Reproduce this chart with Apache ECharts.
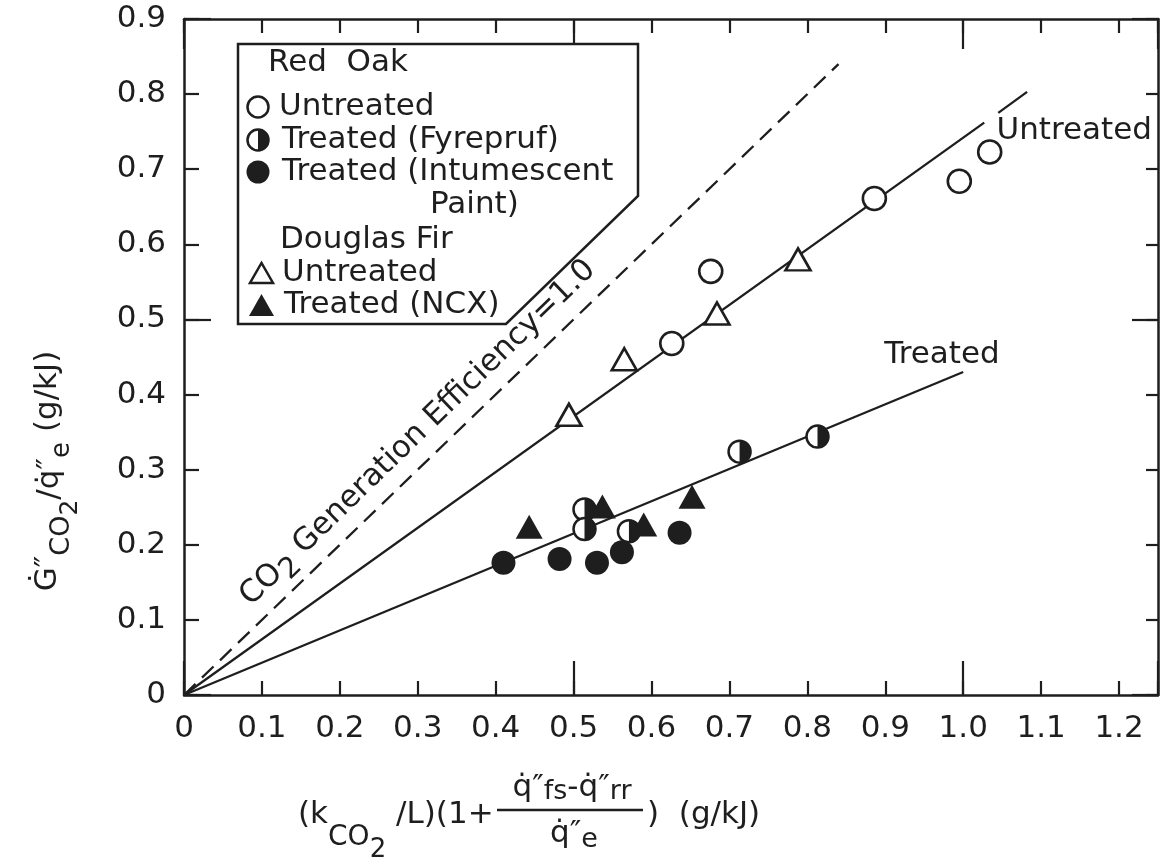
<!DOCTYPE html>
<html>
<head>
<meta charset="UTF-8">
<title>CO2 generation</title>
<style>
  body{margin:0;padding:0;background:#fff;}
  #chart{width:1161px;height:864px;}
</style>
</head>
<body>
<div id="chart"></div>
<script src="https://cdn.jsdelivr.net/npm/echarts@6/dist/echarts.min.js"></script>
<script>
// points: [x, y]
var oakUntreated = [[0.626,0.468],[0.676,0.564],[0.886,0.661],[0.995,0.684],[1.034,0.723]];
var oakFyrepruf = [[0.514,0.247],[0.514,0.221],[0.571,0.218],[0.713,0.324],[0.813,0.344]];
var oakIntumescent = [[0.410,0.176],[0.482,0.181],[0.530,0.176],[0.562,0.190],[0.636,0.216]];
var firUntreated = [[0.494,0.373],[0.565,0.447],[0.684,0.508],[0.788,0.580]];
var firNCX = [[0.443,0.224],[0.537,0.251],[0.590,0.227],[0.652,0.264]];

// drawn lines (end points)
var efficiencyLine = [[0,0],[0.84,0.84]];
var untreatedFit = [[0,0],[1.027,0.762]];
var untreatedFitTail = [[1.045,0.775],[1.082,0.803]];
var treatedFit = [[0,0],[1.0,0.43]];

var ink = '#1e1e1e';
var font = 'DejaVu Sans';
var fs = 31;

var measureCtx = document.createElement('canvas').getContext('2d');
function textWidth(s, size) {
  measureCtx.font = size + 'px "' + font + '"';
  return measureCtx.measureText(s).width;
}

function tickLabel(v) {
  if (v > 1.21) return '';
  return v === 0 ? '0' : v.toFixed(1);
}

function frameAxis(pos, max, interval, len, withLine, withLabel) {
  return {
    type: 'value', position: pos, min: 0, max: max, interval: interval,
    splitLine: {show: false},
    axisLine: {show: withLine, onZero: false, lineStyle: {color: ink, width: 2.5}},
    axisTick: {show: true, inside: true, length: len, lineStyle: {color: ink, width: 2.2}},
    axisLabel: {show: withLabel, formatter: tickLabel, fontFamily: font, fontSize: 31, color: ink, margin: 18}
  };
}

function halfCircle(params, api) {
  var p = api.coord([api.value(0), api.value(1)]);
  var r = 11;
  return {
    type: 'group',
    children: [
      {type: 'circle', shape: {cx: p[0], cy: p[1], r: r}, style: {fill: '#fff', stroke: ink, lineWidth: 2.5}},
      {type: 'sector', shape: {cx: p[0], cy: p[1], r0: 0, r: r, startAngle: -Math.PI / 2, endAngle: Math.PI / 2, clockwise: true}, style: {fill: ink}}
    ]
  };
}

function txt(text, x, y, align, size) {
  return {
    type: 'text', x: x, y: y, z: 60,
    style: {text: text, fontFamily: font, fontSize: size || fs, fill: ink,
      align: align || 'left', verticalAlign: 'middle'}
  };
}

// text made of pieces with their own size and drop below the baseline (for subscripts)
// list: [text, fontSize, drop]; (x, y) is the middle of the run, angle counter-clockwise
function runText(list, x, y, angle, anchor) {
  var total = 0;
  list.forEach(function (p) { total += textWidth(p[0], p[1]); });
  var ax = Math.cos(angle), ay = -Math.sin(angle);
  var px = Math.sin(angle), py = Math.cos(angle);
  var start = anchor === 'center' ? -total / 2 : 0;
  var out = [];
  var adv = start;
  list.forEach(function (p) {
    out.push({
      type: 'text', z: 60, rotation: angle,
      x: x + ax * adv + px * p[2], y: y + ay * adv + py * p[2],
      style: {text: p[0], fontFamily: font, fontSize: p[1], fill: ink, align: 'left', verticalAlign: 'middle'}
    });
    adv += textWidth(p[0], p[1]);
  });
  return out;
}

var qdot = 'q\u0307\u2033';

var graphics = [
  // legend box
  {type: 'polygon', z: 50, shape: {points: [[238,44],[638,44],[638,196],[506,324],[238,324]]},
    style: {fill: '#fff', stroke: ink, lineWidth: 2.5}},
  txt('Red  Oak', 268, 63),
  {type: 'circle', z: 60, shape: {cx: 258, cy: 107, r: 10.5}, style: {fill: '#fff', stroke: ink, lineWidth: 2.5}},
  txt('Untreated', 279, 107),
  {type: 'circle', z: 60, shape: {cx: 258, cy: 140, r: 10.5}, style: {fill: '#fff', stroke: ink, lineWidth: 2.5}},
  {type: 'sector', z: 61, shape: {cx: 258, cy: 140, r0: 0, r: 10.5, startAngle: -Math.PI / 2, endAngle: Math.PI / 2, clockwise: true}, style: {fill: ink}},
  txt('Treated (Fyrepruf)', 282, 140),
  {type: 'circle', z: 60, shape: {cx: 258, cy: 172, r: 11.5}, style: {fill: ink}},
  txt('Treated (Intumescent', 282, 172),
  txt('Paint)', 430, 205),
  txt('Douglas Fir', 280, 240),
  {type: 'polygon', z: 60, shape: {points: [[250,283],[273,283],[261.5,263]]}, style: {fill: '#fff', stroke: ink, lineWidth: 2.5}},
  txt('Untreated', 282, 273),
  {type: 'polygon', z: 60, shape: {points: [[249,316],[274,316],[261.5,294]]}, style: {fill: ink}},
  txt('Treated (NCX)', 284, 305),

  // line labels
  txt('Untreated', 1152, 131, 'right'),
  txt('Treated', 942, 355, 'center'),

  // fraction bar of the x axis title
  {type: 'line', z: 60, shape: {x1: 497, y1: 810, x2: 643, y2: 810}, style: {stroke: ink, lineWidth: 2.5}},
  txt(')  (g/kJ)', 647, 815, 'left')
];

graphics = graphics
  // dashed line label
  .concat(runText([['CO', 31, 0], ['2', 29, 9], [' Generation Efficiency=1.0', 31, 0]], 418, 433, 0.77, 'center'))
  // y axis title
  .concat(runText([['\u0120\u2033', 31, 0], ['CO', 27, 14], ['2', 25, 22], ['/' + qdot, 31, 2], ['e', 26, 14], [' (g/kJ)', 31, 0]],
    48, 471, Math.PI / 2, 'center'))
  // x axis title
  .concat(runText([['(k', 31, 0], ['CO', 28, 23], ['2', 26, 35], [' /L)(1+', 31, 0]], 298, 815, 0, 'left'))
  .concat(runText([[qdot, 31, 0], ['fs', 27, 4], ['-', 31, 0], [qdot, 31, 0], ['rr', 27, 4]], 572, 788, 0, 'center'))
  .concat(runText([[qdot, 31, 0], ['e', 27, 6]], 574, 834, 0, 'center'));

var lineStyle = {color: ink, width: 2.3};

var chart = echarts.init(document.getElementById('chart'));
chart.setOption({
  animation: false,
  backgroundColor: '#fff',
  grid: {left: 184, right: 3, top: 19, bottom: 169, containLabel: false, outerBoundsMode: 'none'},
  xAxis: [
    frameAxis('bottom', 1.25, 0.1, 14, true, true),
    frameAxis('bottom', 1.25, 0.5, 34, false, false),
    frameAxis('top', 1.25, 0.1, 14, true, false),
    frameAxis('top', 1.25, 0.5, 30, false, false)
  ],
  yAxis: [
    frameAxis('left', 0.9, 0.1, 15, true, true),
    frameAxis('left', 0.9, 0.5, 27, false, false),
    frameAxis('right', 0.9, 0.1, 12, true, false),
    frameAxis('right', 0.9, 0.5, 26, false, false)
  ],
  graphic: graphics,
  series: [
    {type: 'line', data: efficiencyLine, showSymbol: false, silent: true, z: 1,
      lineStyle: {color: ink, width: 2.3, type: [16, 9]}},
    {type: 'line', data: untreatedFit, showSymbol: false, silent: true, z: 1, lineStyle: lineStyle},
    {type: 'line', data: untreatedFitTail, showSymbol: false, silent: true, z: 1, lineStyle: lineStyle},
    {type: 'line', data: treatedFit, showSymbol: false, silent: true, z: 1, lineStyle: lineStyle},
    {type: 'scatter', name: 'Red Oak Untreated', data: oakUntreated, symbol: 'circle', symbolSize: 23, z: 3,
      itemStyle: {color: '#fff', borderColor: ink, borderWidth: 2.6, opacity: 1}},
    {type: 'custom', name: 'Red Oak Treated (Fyrepruf)', data: oakFyrepruf, renderItem: halfCircle, z: 3},
    {type: 'scatter', name: 'Red Oak Treated (Intumescent Paint)', data: oakIntumescent, symbol: 'circle', symbolSize: 24, z: 3,
      itemStyle: {color: ink, opacity: 1}},
    {type: 'scatter', name: 'Douglas Fir Untreated', data: firUntreated, symbol: 'triangle', symbolSize: [25, 22], z: 3,
      itemStyle: {color: '#fff', borderColor: ink, borderWidth: 2.6, opacity: 1}},
    {type: 'scatter', name: 'Douglas Fir Treated (NCX)', data: firNCX, symbol: 'triangle', symbolSize: [27, 24], z: 3,
      itemStyle: {color: ink, opacity: 1}}
  ]
});
</script>
</body>
</html>
